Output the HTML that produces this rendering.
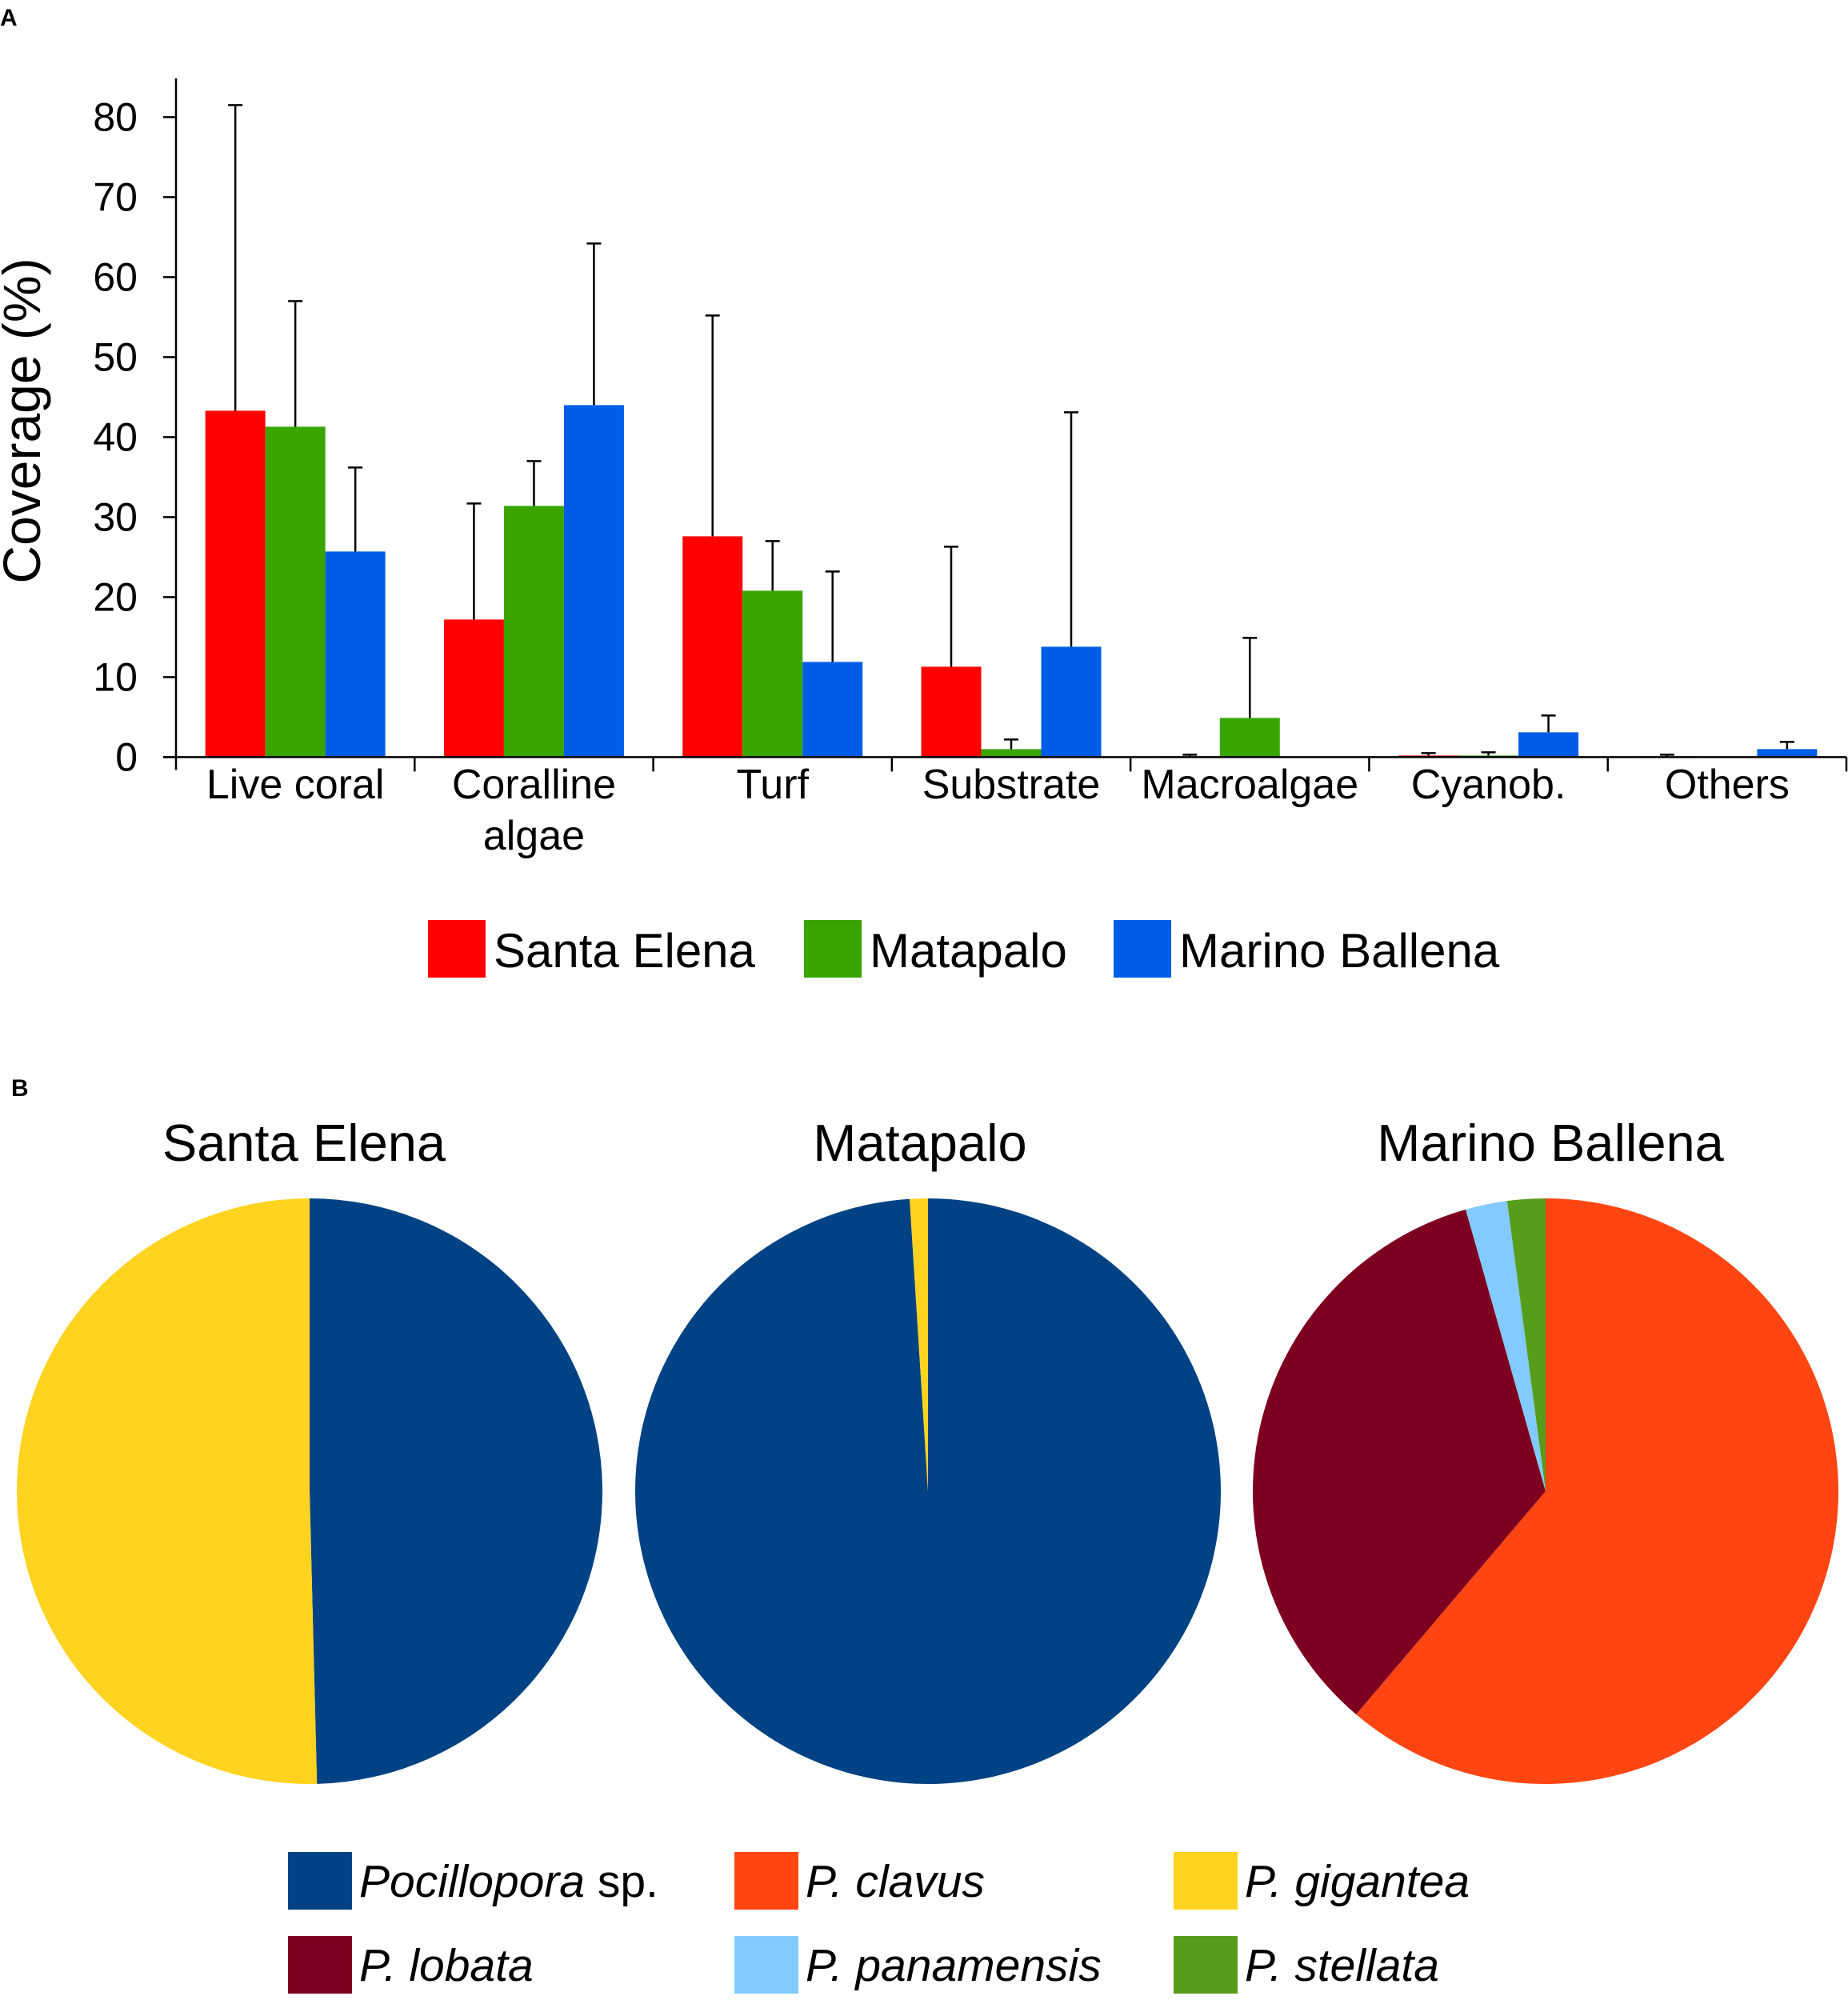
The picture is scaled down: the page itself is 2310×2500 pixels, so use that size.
<!DOCTYPE html>
<html><head><meta charset="utf-8"><style>
html,body{margin:0;padding:0;background:#fff}
svg{display:block;font-family:"Liberation Sans",Arial,sans-serif}
</style></head><body>
<svg id="c" width="2310" height="2500" viewBox="0 0 2310 2500" xmlns="http://www.w3.org/2000/svg">
<text x="0" y="32" font-size="30" font-weight="bold">A</text>
<text x="14" y="1370" font-size="30" font-weight="bold">B</text>
<text transform="translate(50,526) rotate(-90)" text-anchor="middle" font-size="66">Coverage (%)</text>
<g id="bars"></g>
<g id="pies"></g>
</svg>
<script>
const categories = ["Live coral", "Coralline|algae", "Turf", "Substrate", "Macroalgae", "Cyanob.", "Others"];
const series = ["Santa Elena", "Matapalo", "Marino Ballena"];
const seriesColors = ["#ff0000", "#3aa500", "#005ee6"];
const santaElena = [43.3, 17.2, 27.6, 11.3, 0.1, 0.2, 0.1];
const matapalo = [41.3, 31.4, 20.8, 1.0, 4.9, 0.2, 0];
const marinoBallena = [25.7, 44.0, 11.9, 13.8, 0, 3.1, 1.0];
const sdSantaElena = [38.2, 14.5, 27.6, 15.0, 0.2, 0.3, 0.2];
const sdMatapalo = [15.7, 5.6, 6.2, 1.2, 10.0, 0.4, null];
const sdMarinoBallena = [10.5, 20.2, 11.3, 29.3, null, 2.1, 0.9];
const yTicks = [0, 10, 20, 30, 40, 50, 60, 70, 80];

const NS = "http://www.w3.org/2000/svg";
function mk(tag, attrs, parent) { const e = document.createElementNS(NS, tag); for (const k in attrs) e.setAttribute(k, attrs[k]); parent.appendChild(e); return e; }
const bars = document.getElementById("bars");
const x0 = 220, x1 = 2308, y0 = 946.4, yPer = 10.0;
const catW = (x1 - x0) / categories.length, barW = 75;
const yS = v => y0 - v * yPer;
const values = [santaElena, matapalo, marinoBallena];
const sds = [sdSantaElena, sdMatapalo, sdMarinoBallena];

categories.forEach((c, i) => {
  values.forEach((vals, s) => {
    const v = vals[i];
    const bx = x0 + i * catW + (catW - 3 * barW) / 2 + s * barW;
    const r = mk("rect", {x: bx, y: yS(v), width: barW, height: y0 - yS(v), fill: seriesColors[s]}, bars);
    
    
    const sd = sds[s][i];
    if (sd !== null) {
      const cx = bx + barW / 2, top = yS(v + sd);
      const l = mk("path", {d: `M${cx},${yS(v)}V${top}M${cx-9},${top}H${cx+9}`, stroke: "#000", "stroke-width": 2.5, fill: "none"}, bars);
      
      
    }
  });
  const lines = c.split("|");
  lines.forEach((ln, k) => {
    const t = mk("text", {x: x0 + (i + 0.5) * catW, y: 998 + k * 64, "text-anchor": "middle", "font-size": 52}, bars);
    t.textContent = ln;
    
    
  });
});
const ax = mk("path", {d: `M${x0},98V${y0+16}M${x0-16},${y0}H${x1}`, stroke: "#000", "stroke-width": 2.5, fill: "none"}, bars);


for (let i = 1; i <= categories.length; i++) {
  const t = mk("path", {d: `M${x0 + i*catW},${y0}V${y0+18}`, stroke: "#000", "stroke-width": 2.5}, bars);
  
  
}
yTicks.forEach(v => {
  const t = mk("path", {d: `M${x0-16},${yS(v)}H${x0}`, stroke: "#000", "stroke-width": 2.5}, bars);
  
  
  const l = mk("text", {x: 172, y: yS(v) + 17, "text-anchor": "end", "font-size": 50}, bars);
  l.textContent = v;
  
  
});
const legX = [535, 1005, 1392];
series.forEach((s, i) => {
  const r = mk("rect", {x: legX[i], y: 1150, width: 72, height: 72, fill: seriesColors[i]}, bars);
  
  
  const t = mk("text", {x: legX[i] + 82, y: 1209, "font-size": 60}, bars);
  t.textContent = s;
  
  
});

const species = ["Pocillopora sp.", "P. clavus", "P. gigantea", "P. lobata", "P. panamensis", "P. stellata"];
const speciesColors = ["#004283", "#ff4512", "#ffd320", "#7e0021", "#83caff", "#579d1c"];
const siteNames = ["Santa Elena", "Matapalo", "Marino Ballena"];
const pieOrder = [[0, 2], [0, 2], [1, 3, 4, 5]];
const pieSantaElena = [49.6, 50.4];
const pieMatapalo = [99.0, 1.0];
const pieMarinoBallena = [61.2, 34.4, 2.3, 2.1];
const pieVals = [pieSantaElena, pieMatapalo, pieMarinoBallena];
const pies = document.getElementById("pies");
const pieCx = [387, 1160, 1932], pieCy = 1864, R = 366;
const titleX = [380, 1150, 1938];
pieVals.forEach((vals, p) => {
  const tot = vals.reduce((a, b) => a + b, 0);
  let a = 0;
  const cx = pieCx[p];
  vals.forEach((v, k) => {
    const a2 = a + v / tot * 2 * Math.PI;
    const xA = cx + R * Math.sin(a), yA = pieCy - R * Math.cos(a);
    const xB = cx + R * Math.sin(a2), yB = pieCy - R * Math.cos(a2);
    const large = (a2 - a) > Math.PI ? 1 : 0;
    const sl = mk("path", {d: `M${cx},${pieCy}L${xA},${yA}A${R},${R} 0 ${large} 1 ${xB},${yB}Z`, fill: speciesColors[pieOrder[p][k]]}, pies);
    
    
    a = a2;
  });
  const t = mk("text", {x: titleX[p], y: 1451, "text-anchor": "middle", "font-size": 65}, pies);
  t.textContent = siteNames[p];
  
  
});
const lx = [360, 918, 1467], ly = [2315, 2420];
species.forEach((s, i) => {
  const col = i % 3, row = Math.floor(i / 3);
  const r = mk("rect", {x: lx[col], y: ly[row], width: 80, height: 72, fill: speciesColors[i]}, pies);
  
  
  const t = mk("text", {x: lx[col] + 89, y: ly[row] + 56, "font-size": 57}, pies);
  
  
  if (s === "Pocillopora sp.") {
    const ts = mk("tspan", {"font-style": "italic"}, t); ts.textContent = "Pocillopora";
    const ts2 = mk("tspan", {}, t); ts2.textContent = " sp.";
  } else {
    t.setAttribute("font-style", "italic"); t.textContent = s;
  }
});
</script>
</body></html>
